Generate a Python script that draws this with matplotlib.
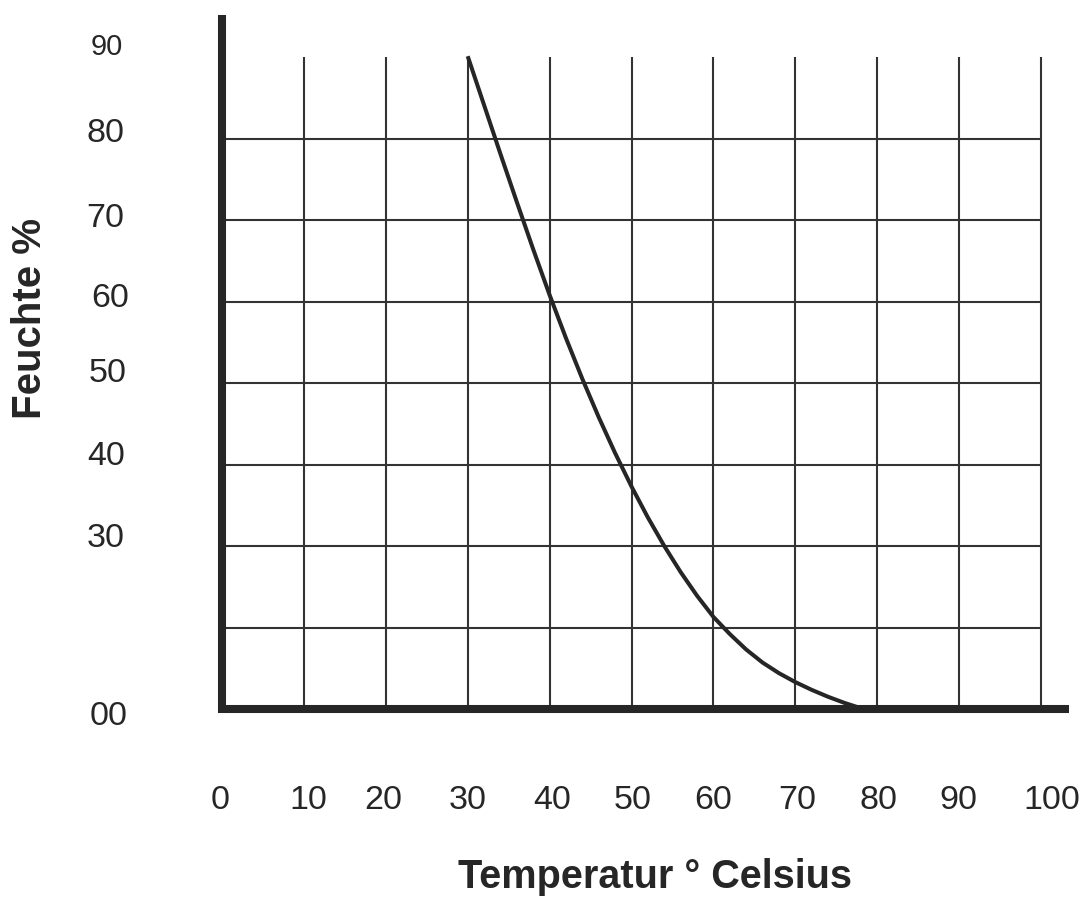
import matplotlib
matplotlib.use("Agg")
import matplotlib.pyplot as plt

# ---- data ----
temperature = [30.0, 32.0, 34.0, 36.0, 38.0, 40.0, 42.0, 44.0, 46.0, 48.0, 50.0,
               52.0, 54.0, 56.0, 58.0, 60.0, 62.0, 64.0, 66.0, 68.0, 70.0, 72.0,
               74.0, 76.0, 78.0, 78.5]
humidity = [80.1, 74.1, 68.1, 62.2, 56.4, 50.8, 45.5, 40.5, 35.8, 31.4, 27.3,
            23.5, 20.0, 16.8, 13.9, 11.3, 9.2, 7.3, 5.7, 4.4, 3.3, 2.35,
            1.5, 0.75, 0.1, 0.0]

x_grid = [10, 20, 30, 40, 50, 60, 70, 80, 90, 100]
y_grid = [10, 20, 30, 40, 50, 60, 70]

x_tick_labels = ["0", "10", "20", "30", "40", "50", "60", "70", "80", "90", "100"]
x_tick_pos = [-0.2, 10.5, 19.7, 30.0, 40.3, 50.1, 60.0, 70.2, 80.1, 89.9, 101.3]
y_tick_labels = ["90", "80", "70", "60", "50", "40", "30", "00"]
y_tick_pos = [80.2, 69.6, 59.1, 49.3, 40.1, 29.9, 19.9, -2.0]
y_tick_x = [-14.1, -14.2, -14.2, -13.7, -13.9, -14.2, -14.2, -13.9]
y_tick_sizes = [21, 24.5, 24.5, 24.5, 24.5, 24.5, 24.5, 24.5]

xlabel = "Temperatur ° Celsius"
ylabel = "Feuchte %"

# ---- layout ----
W, H = 1087, 901
fig = plt.figure(figsize=(W / 100, H / 100), dpi=100)
ax = fig.add_axes([222 / W, (H - 709) / H, 819 / W, 652 / H])
ax.set_xlim(0, 100)
ax.set_ylim(0, 80)
ax.axis("off")

dark = "#262626"
grid_c = "#333333"

for gx in x_grid:
    ax.plot([gx, gx], [0, 80], color=grid_c, lw=1.5, solid_capstyle="butt", clip_on=False, zorder=1)
for gy in y_grid:
    ax.plot([0, 100], [gy, gy], color=grid_c, lw=1.5, solid_capstyle="butt", clip_on=False, zorder=1)

# thick axes
ax.plot([0, 0], [-0.5, 85.2], color=dark, lw=5.8, solid_capstyle="butt", clip_on=False, zorder=3)
ax.plot([-0.5, 103.4], [0, 0], color=dark, lw=5.8, solid_capstyle="butt", clip_on=False, zorder=3)

# curve
ax.plot(temperature, humidity, color=dark, lw=2.9, solid_capstyle="butt",
        solid_joinstyle="round", clip_on=False, zorder=4)

font = "Liberation Sans"
for lab, xp in zip(x_tick_labels, x_tick_pos):
    ax.text(xp, -12.3, lab, ha="center", va="baseline", fontsize=24.5,
            family=font, color=dark, clip_on=False)
for lab, yp, xp, fs in zip(y_tick_labels, y_tick_pos, y_tick_x, y_tick_sizes):
    ax.text(xp, yp, lab, ha="center", va="baseline", fontsize=fs,
            family=font, color=dark, clip_on=False)

fig.text(655 / W, 1 - 877 / H, xlabel, ha="center", va="center", fontsize=28.5,
         fontweight="bold", family=font, color=dark)
fig.text(30 / W, 1 - 318 / H, ylabel, ha="center", va="center", fontsize=29,
         fontweight="bold", family=font, color=dark, rotation=90)

fig.savefig("out.png", dpi=100)
